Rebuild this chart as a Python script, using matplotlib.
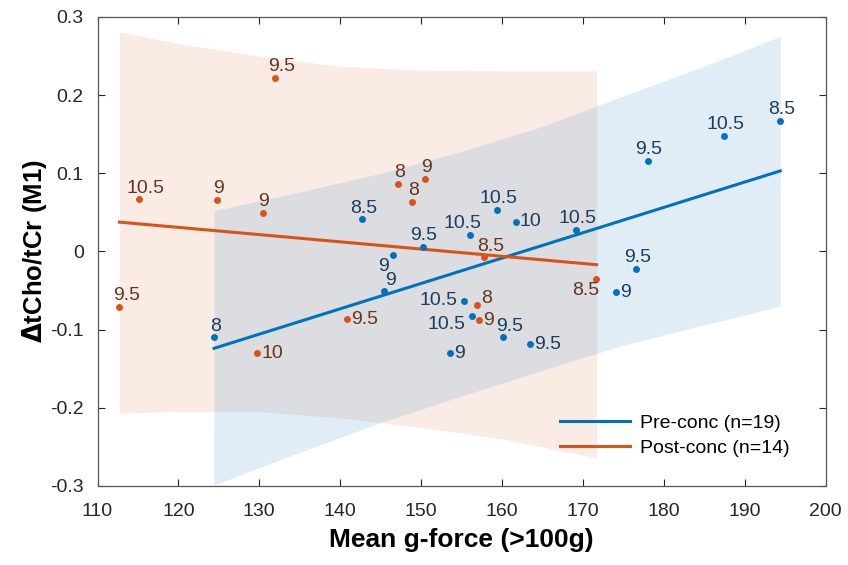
import numpy as np
import matplotlib
matplotlib.use('Agg')
import matplotlib.pyplot as plt

plt.rcParams['font.family'] = ['Liberation Sans', 'DejaVu Sans']

## данные до сотрясения (синие)
pre_x = [124.4, 142.7, 146.5, 145.4, 150.2, 156.0, 159.4, 161.7, 155.3, 156.3,
         160.1, 163.5, 153.6, 169.2, 178.0, 187.5, 194.4, 176.6, 174.1]
pre_y = [-0.110, 0.041, -0.005, -0.051, 0.0055, 0.021, 0.053, 0.038, -0.063, -0.083,
         -0.110, -0.119, -0.130, 0.028, 0.116, 0.148, 0.167, -0.022, -0.052]
pre_lab = ['8', '8.5', '9', '9', '9.5', '10.5', '10.5', '10', '10.5', '10.5',
           '9.5', '9.5', '9', '10.5', '9.5', '10.5', '8.5', '9.5', '9']
pre_pos = ['a', 'a', 'bl', 'ar', 'a', 'al', 'a', 'r', 'l', 'ld',
           'ar', 'r', 'r', 'a', 'a', 'a', 'a', 'a', 'r']

## данные после сотрясения (оранжевые)
post_x = [115.1, 124.8, 130.4, 112.7, 129.7, 131.9, 147.2, 150.5, 148.9, 157.8,
          156.9, 157.2, 171.6, 140.8]
post_y = [0.0665, 0.066, 0.0495, -0.071, -0.130, 0.222, 0.0865, 0.093, 0.063, -0.0077,
          -0.069, -0.088, -0.035, -0.087]
post_lab = ['10.5', '9', '9', '9.5', '10', '9.5', '8', '9', '8', '8.5',
            '8', '9', '8.5', '9.5']
post_pos = ['ar', 'a', 'a', 'ar', 'r', 'ar', 'a', 'a', 'a', 'ar',
            'ru', 'r', 'bl', 'r']

## линии регрессии
pre_fit_x = [124.4, 194.4]
pre_fit_y = [-0.124, 0.103]
post_fit_x = [112.7, 171.7]
post_fit_y = [0.0375, -0.017]

## доверительные полосы
pre_band_x = [124.4, 135, 145, 155, 165, 175, 185, 194.4]
pre_band_hi = [0.052, 0.076, 0.100, 0.128, 0.160, 0.199, 0.237, 0.275]
pre_band_lo = [-0.299, -0.257, -0.219, -0.185, -0.152, -0.120, -0.094, -0.070]
post_band_x = [112.7, 120, 130, 140, 150, 160, 171.7]
post_band_hi = [0.281, 0.266, 0.250, 0.237, 0.232, 0.231, 0.231]
post_band_lo = [-0.207, -0.205, -0.205, -0.213, -0.225, -0.240, -0.264]

blue = '#0072BD'
orange = '#D95319'
blue_txt = '#1c3d5e'
orange_txt = '#6a3320'

# смещения подписей (в пунктах)
offsets = {
    'a': ((1, 2), 'center', 'bottom'),
    'al': ((-5, 2), 'center', 'bottom'),
    'ar': ((5, 2), 'center', 'bottom'),
    'r': ((3, 0), 'left', 'center'),
    'ru': ((3, 5), 'left', 'center'),
    'l': ((-5, 0), 'right', 'center'),
    'ld': ((-5, -6), 'right', 'center'),
    'bl': ((-7, -2), 'center', 'top'),
}

fig = plt.figure(figsize=(8.48, 5.65), dpi=100)
ax = fig.add_axes([0.115, 0.14, 0.8585, 0.83])

ax.fill_between(post_band_x, post_band_lo, post_band_hi, color=orange, alpha=0.11, lw=0)
ax.fill_between(pre_band_x, pre_band_lo, pre_band_hi, color=blue, alpha=0.12, lw=0)

ax.plot(pre_fit_x, pre_fit_y, color=blue, lw=2.2, label='Pre-conc (n=19)')
ax.plot(post_fit_x, post_fit_y, color=orange, lw=2.2, label='Post-conc (n=14)')

ax.plot(pre_x, pre_y, 'o', color=blue, ms=5, mec='none')
ax.plot(post_x, post_y, 'o', color=orange, ms=5, mec='none')


def put_labels(xs, ys, labs, pos, col):
    for x, y, t, p in zip(xs, ys, labs, pos):
        off, ha, va = offsets[p]
        ax.annotate(t, (x, y), xytext=off, textcoords='offset points',
                    ha=ha, va=va, fontsize=14, color=col)


put_labels(pre_x, pre_y, pre_lab, pre_pos, blue_txt)
put_labels(post_x, post_y, post_lab, post_pos, orange_txt)

ax.set_xlim(110, 200)
ax.set_ylim(-0.3, 0.3)
ax.set_xticks(np.arange(110, 201, 10))
ax.set_yticks(np.arange(-0.3, 0.31, 0.1))
ax.set_yticklabels(['-0.3', '-0.2', '-0.1', '0', '0.1', '0.2', '0.3'])
ax.tick_params(direction='in', length=5, width=0.8, top=True, right=True,
               labelsize=14, colors='#262626')
ax.tick_params(axis='x', pad=12)
ax.tick_params(axis='y', pad=10)
for s in ax.spines.values():
    s.set_color('#555555')
    s.set_linewidth(0.9)

ax.set_xlabel('Mean g-force (>100g)', fontsize=19, fontweight='bold', labelpad=6)
ax.set_ylabel('$\\mathbf{\\Delta}$tCho/tCr (M1)', fontsize=18.5, fontweight='bold', labelpad=1)

leg = ax.legend(loc='lower right', bbox_to_anchor=(0.975, 0.025), frameon=False,
                fontsize=14, handlelength=3.6, handletextpad=0.5, labelspacing=0.35)

fig.savefig('out.png', dpi=100)
